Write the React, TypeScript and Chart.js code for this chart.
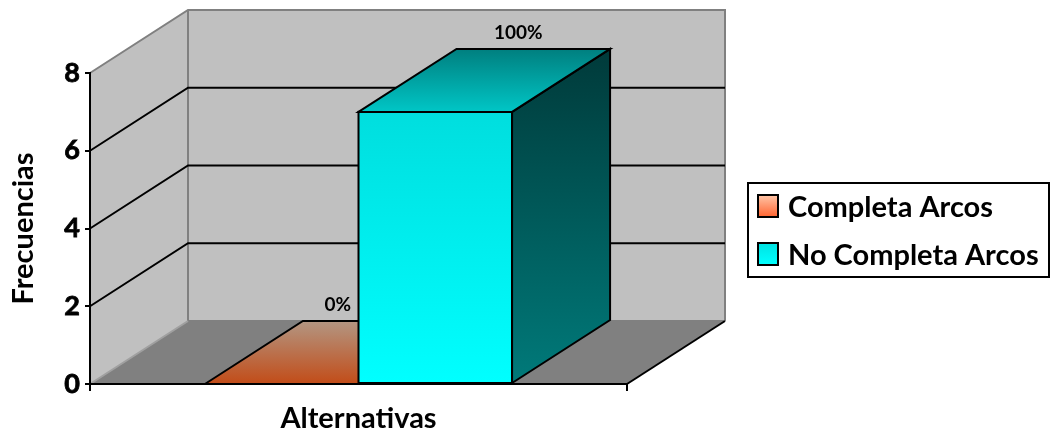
import React, { useEffect, useRef } from "react";
import { Chart, registerables } from "chart.js";

Chart.register(...registerables);

// ---- data ----
const categories = [""];
const seriesNames = ["Completa Arcos", "No Completa Arcos"];
const completaArcos = [0];
const noCompletaArcos = [7];
const yMin = 0;
const yMax = 8;
const yStep = 2;
const xTitle = "Alternativas";
const yTitle = "Frecuencias";

// ---- styling ----
const W = 1052;
const H = 436;
const FONT = "Lato, 'Open Sans', sans-serif";
const WEIGHT = "bold";
const DEPTH_X = 98;
const DEPTH_Y = -63;
const WALL = "#c0c0c0";
const FLOOR = "#808080";
const EDGE = "#808080";
const LABEL_SHIFT = [56, 83];

const palettes = [
  {
    front: ["#d0602c", "#c24c18"],
    top: ["#b39682", "#c24c18"],
    side: ["#6a2a0c", "#8a3a14"],
    legend: ["#ffc6a8", "#ff6430"],
  },
  {
    front: ["#00dede", "#00ffff"],
    top: ["#007f7f", "#00c6c6"],
    side: ["#003a3a", "#007a7a"],
    legend: ["#00e2e2", "#00ffff"],
  },
];

function grad(ctx: CanvasRenderingContext2D, y0: number, y1: number, c: string[]) {
  const g = ctx.createLinearGradient(0, y0, 0, y1);
  g.addColorStop(0, c[0]);
  g.addColorStop(1, c[1]);
  return g;
}

function poly(ctx: CanvasRenderingContext2D, pts: number[][]) {
  ctx.beginPath();
  ctx.moveTo(pts[0][0], pts[0][1]);
  for (let i = 1; i < pts.length; i++) ctx.lineTo(pts[i][0], pts[i][1]);
  ctx.closePath();
}

const threeD = {
  id: "threeD",
  beforeDraw(chart: any) {
    const { ctx } = chart;
    const xs = chart.scales.x;
    const ys = chart.scales.y;
    const L = xs.left;
    const R = xs.right;
    const T = ys.getPixelForValue(yMax);
    const B = ys.getPixelForValue(yMin);
    const dx = DEPTH_X;
    const dy = DEPTH_Y;
    ctx.save();
    ctx.lineJoin = "miter";
    // back wall
    ctx.fillStyle = WALL;
    ctx.fillRect(L + dx, T + dy, R - L, B - T);
    // side wall
    poly(ctx, [[L, T], [L + dx, T + dy], [L + dx, B + dy], [L, B]]);
    ctx.fill();
    // floor
    ctx.fillStyle = FLOOR;
    poly(ctx, [[L, B], [L + dx, B + dy], [R + dx, B + dy], [R, B]]);
    ctx.fill();

    // wall edges
    ctx.strokeStyle = EDGE;
    ctx.lineWidth = 2;
    ctx.beginPath();
    ctx.moveTo(L, T);
    ctx.lineTo(L + dx, T + dy);
    ctx.lineTo(R + dx, T + dy);
    ctx.lineTo(R + dx, B + dy);
    ctx.moveTo(L + dx, T + dy);
    ctx.lineTo(L + dx, B + dy);
    ctx.lineTo(R + dx, B + dy);
    ctx.stroke();
    ctx.strokeStyle = "#a0a0a0";
    ctx.beginPath();
    ctx.moveTo(L, B);
    ctx.lineTo(L + dx, B + dy);
    ctx.stroke();

    // floor right edge
    ctx.strokeStyle = "#000";
    ctx.beginPath();
    ctx.moveTo(R, B);
    ctx.lineTo(R + dx, B + dy);
    ctx.stroke();

    // gridlines on side and back walls
    ctx.strokeStyle = "#000";
    for (const t of ys.ticks) {
      if (t.value <= yMin || t.value >= yMax) continue;
      const py = ys.getPixelForValue(t.value);
      ctx.beginPath();
      ctx.moveTo(L, py);
      ctx.lineTo(L + dx, py + dy);
      ctx.lineTo(R + dx, py + dy);
      ctx.stroke();
    }
    ctx.restore();
  },
  afterDatasetsDraw(chart: any) {
    const { ctx } = chart;
    const dx = DEPTH_X;
    const dy = DEPTH_Y;
    ctx.save();
    ctx.lineWidth = 2;
    ctx.strokeStyle = "#000";
    ctx.lineJoin = "miter";
    chart.data.datasets.forEach((ds: any, i: number) => {
      const meta = chart.getDatasetMeta(i);
      const pal = palettes[i];
      meta.data.forEach((el: any) => {
        const { x, y, base, width } = el.getProps(["x", "y", "base", "width"], true);
        const l = x - width / 2;
        const r = x + width / 2;
        const top = Math.min(y, base);
        const bot = Math.max(y, base);
        if (bot - top > 0.5) {
          // front
          ctx.fillStyle = grad(ctx, top, bot, pal.front);
          ctx.fillRect(l, top, r - l, bot - top);
          ctx.strokeRect(l, top, r - l, bot - top);
          // side
          poly(ctx, [[r, top], [r + dx, top + dy], [r + dx, bot + dy], [r, bot]]);
          ctx.fillStyle = grad(ctx, top + dy, bot, pal.side);
          ctx.fill();
          ctx.stroke();
        }
        // top
        poly(ctx, [[l, top], [l + dx, top + dy], [r + dx, top + dy], [r, top]]);
        ctx.fillStyle = grad(ctx, top + dy, top, pal.top);
        ctx.fill();
        ctx.stroke();
      });
    });
    ctx.restore();
  },
  afterDraw(chart: any) {
    const { ctx } = chart;
    const dy = DEPTH_Y;
    ctx.save();
    // value labels as share of the category total
    const datasets = chart.data.datasets;
    const total = datasets.reduce((s: number, d: any) => s + d.data[0], 0);
    ctx.fillStyle = "#000";
    ctx.font = `${WEIGHT} 19px ${FONT}`;
    ctx.textAlign = "center";
    ctx.textBaseline = "middle";
    datasets.forEach((ds: any, i: number) => {
      const el = chart.getDatasetMeta(i).data[0];
      const { x, y } = el.getProps(["x", "y"], true);
      const pct = total ? Math.round((ds.data[0] / total) * 100) : 0;
      ctx.fillText(`${pct}%`, x + LABEL_SHIFT[i], y + dy - 16);
    });

    // legend
    const bx = 747;
    const by = 182;
    const bw = 303;
    const bh = 96;
    ctx.lineWidth = 2;
    ctx.strokeStyle = "#000";
    ctx.strokeRect(bx + 1, by + 1, bw - 2, bh - 2);
    ctx.font = `${WEIGHT} 29px ${FONT}`;
    ctx.textAlign = "left";
    ctx.textBaseline = "alphabetic";
    datasets.forEach((ds: any, i: number) => {
      const cy = by + 24 + i * 48;
      const sx = 758;
      const sy = cy - 11;
      ctx.fillStyle = grad(ctx, sy, sy + 22, palettes[i].legend);
      ctx.fillRect(sx, sy, 20, 22);
      ctx.strokeRect(sx, sy, 20, 22);
      ctx.fillStyle = "#000";
      ctx.fillText(ds.label, 788, cy + 11);
    });
    ctx.restore();
  },
};

export default function App() {
  const ref = useRef<HTMLCanvasElement>(null);
  useEffect(() => {
    document.body.style.margin = "0";
    const canvas = ref.current;
    if (!canvas) return;
    const chart = new Chart(canvas, {
      type: "bar",
      data: {
        labels: categories,
        datasets: [
          { label: seriesNames[0], data: completaArcos, backgroundColor: "transparent", borderWidth: 0 },
          { label: seriesNames[1], data: noCompletaArcos, backgroundColor: "transparent", borderWidth: 0 },
        ],
      },
      options: {
        animation: false,
        responsive: false,
        devicePixelRatio: 1,
        layout: { padding: { top: 73, right: W - 627, left: 0, bottom: 0 } },
        plugins: {
          legend: { display: false },
          tooltip: { enabled: false },
        },
        datasets: {
          bar: { categoryPercentage: 0.572, barPercentage: 1 },
        },
        scales: {
          x: {
            offset: true,
            grid: { offset: true, drawOnChartArea: false, drawTicks: true, tickLength: 7, color: "#000", lineWidth: 2 },
            border: { color: "#000", width: 2 },
            ticks: { display: true, font: { family: FONT, size: 1 } },
            title: {
              display: true,
              text: xTitle,
              color: "#000",
              font: { family: FONT, size: 29, weight: WEIGHT },
              padding: { top: 0, bottom: 0 },
            },
            afterFit: (s: any) => {
              s.height = H - 384;
            },
          },
          y: {
            min: yMin,
            max: yMax,
            ticks: {
              stepSize: yStep,
              color: "#000",
              padding: 5,
              font: { family: FONT, size: 27, weight: WEIGHT },
              textStrokeColor: "#000",
              textStrokeWidth: 0.8,
            },
            grid: { drawOnChartArea: false, drawTicks: true, tickLength: 5, color: "#000", lineWidth: 2 },
            border: { color: "#000", width: 2 },
            title: {
              display: true,
              text: yTitle,
              color: "#000",
              font: { family: FONT, size: 29, weight: WEIGHT },
              padding: { top: 6, bottom: 0 },
            },
            afterFit: (s: any) => {
              s.width = 90;
            },
          },
        },
      },
      plugins: [threeD],
    });
    return () => chart.destroy();
  }, []);
  return (
    <div style={{ width: W, height: H }}>
      <canvas ref={ref} width={W} height={H} style={{ display: "block" }} />
    </div>
  );
}
